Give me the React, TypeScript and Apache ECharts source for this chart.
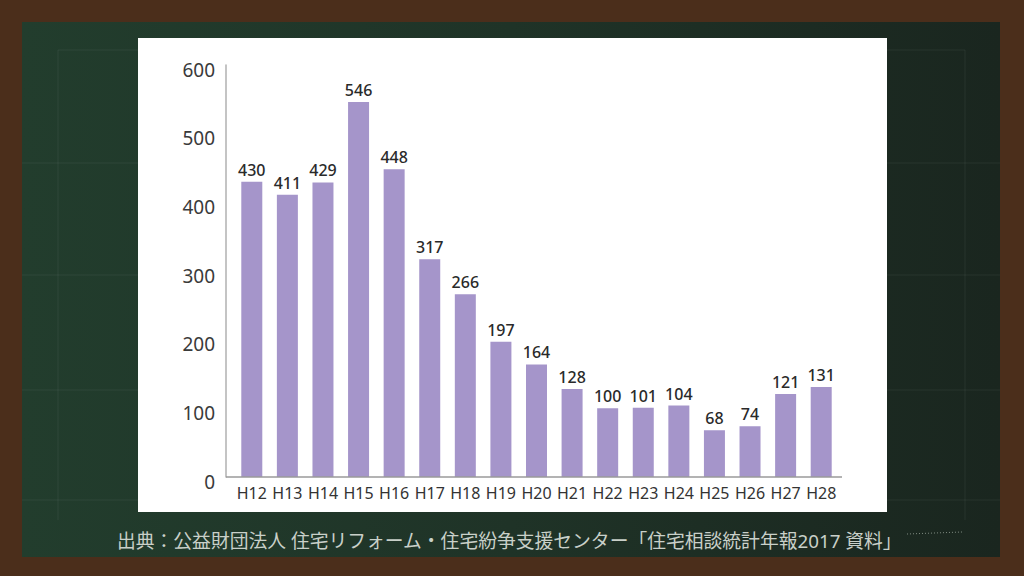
import React, { useEffect, useRef } from "react";
import * as echarts from "echarts";

const categories = ["H12","H13","H14","H15","H16","H17","H18","H19","H20","H21","H22","H23","H24","H25","H26","H27","H28"];
const values = [430,411,429,546,448,317,266,197,164,128,100,101,104,68,74,121,131];
const yTicks = [0, 100, 200, 300, 400, 500, 600];
const caption = "出典：公益財団法人 住宅リフォーム・住宅紛争支援センター「住宅相談統計年報2017 資料」";

const FONT = "'Noto Sans', 'Noto Sans CJK JP', sans-serif";

export default function App() {
  const ref = useRef<HTMLDivElement>(null);
  useEffect(() => {
    document.body.style.margin = "0";
    const chart = echarts.init(ref.current!, null, { renderer: "svg" });
    const chalk = "rgba(200,215,200,0.08)";
    chart.setOption({
      animation: false,
      backgroundColor: "#4b2e1b",
      graphic: [
        {
          type: "rect",
          shape: { x: 22, y: 22, width: 978, height: 535 },
          style: {
            fill: new echarts.graphic.LinearGradient(0, 0, 1, 0, [
              { offset: 0, color: "#223d2d" },
              { offset: 0.5, color: "#1f3327" },
              { offset: 1, color: "#1a261f" },
            ]),
          },
          z: -10,
        },
        { type: "line", shape: { x1: 58, y1: 50, x2: 58, y2: 520 }, style: { stroke: chalk, lineWidth: 1 }, z: -9 },
        { type: "line", shape: { x1: 965, y1: 50, x2: 965, y2: 520 }, style: { stroke: chalk, lineWidth: 1 }, z: -9 },
        { type: "line", shape: { x1: 58, y1: 50, x2: 965, y2: 50 }, style: { stroke: chalk, lineWidth: 1 }, z: -9 },
        { type: "line", shape: { x1: 22, y1: 163, x2: 1000, y2: 163 }, style: { stroke: chalk, lineWidth: 1 }, z: -9 },
        { type: "line", shape: { x1: 22, y1: 275, x2: 1000, y2: 275 }, style: { stroke: chalk, lineWidth: 1 }, z: -9 },
        { type: "line", shape: { x1: 22, y1: 390, x2: 1000, y2: 390 }, style: { stroke: chalk, lineWidth: 1 }, z: -9 },
        { type: "line", shape: { x1: 22, y1: 500, x2: 1000, y2: 500 }, style: { stroke: chalk, lineWidth: 1 }, z: -9 },
        {
          type: "rect",
          shape: { x: 138, y: 38, width: 749, height: 474 },
          style: { fill: "#ffffff" },
          z: -5,
        },
        {
          type: "line",
          shape: { x1: 226, y1: 477, x2: 842, y2: 477 },
          style: { stroke: "#9a9a9a", lineWidth: 1.5 },
          z: 5,
        },
        {
          type: "text",
          x: 117,
          y: 541,
          style: {
            text: caption,
            fill: "#c9d0c9",
            font: `18.8px ${FONT}`,
            verticalAlign: "middle",
            align: "left",
          },
        },
        {
          type: "line",
          shape: { x1: 907, y1: 534, x2: 962, y2: 532 },
          style: { stroke: "rgba(210,220,210,0.55)", lineWidth: 1, lineDash: [1, 2] },
        },
      ],
      grid: { left: 234, right: 1024 - 839, top: 65, bottom: 576 - 477, containLabel: false },
      xAxis: {
        type: "category",
        data: categories,
        axisLine: { show: false },
        axisTick: { show: false },
        axisLabel: { color: "#333", fontSize: 16, fontFamily: FONT, margin: 8, interval: 0 },
      },
      yAxis: {
        type: "value",
        min: yTicks[0],
        max: yTicks[yTicks.length - 1],
        interval: 100,
        offset: 8,
        axisLine: { show: true, lineStyle: { color: "#b0b0b0", width: 1.5 } },
        axisTick: { show: false },
        splitLine: { show: false },
        axisLabel: {
          margin: 11,
          formatter: "{v|{value}}",
          rich: {
            v: {
              color: "#3a3a3a",
              fontSize: 19,
              fontFamily: FONT,
              lineHeight: 28,
              verticalAlign: "bottom",
            },
          },
        },
      },
      series: [
        {
          type: "bar",
          data: values,
          barWidth: 21,
          itemStyle: { color: "#a595ca" },
          label: {
            show: true,
            position: "top",
            distance: 4,
            color: "#2a2a2a",
            fontSize: 16,
            fontWeight: 500,
            fontFamily: FONT,
          },
        },
      ],
    });
    return () => chart.dispose();
  }, []);
  return <div ref={ref} style={{ width: 1024, height: 576 }} />;
}
